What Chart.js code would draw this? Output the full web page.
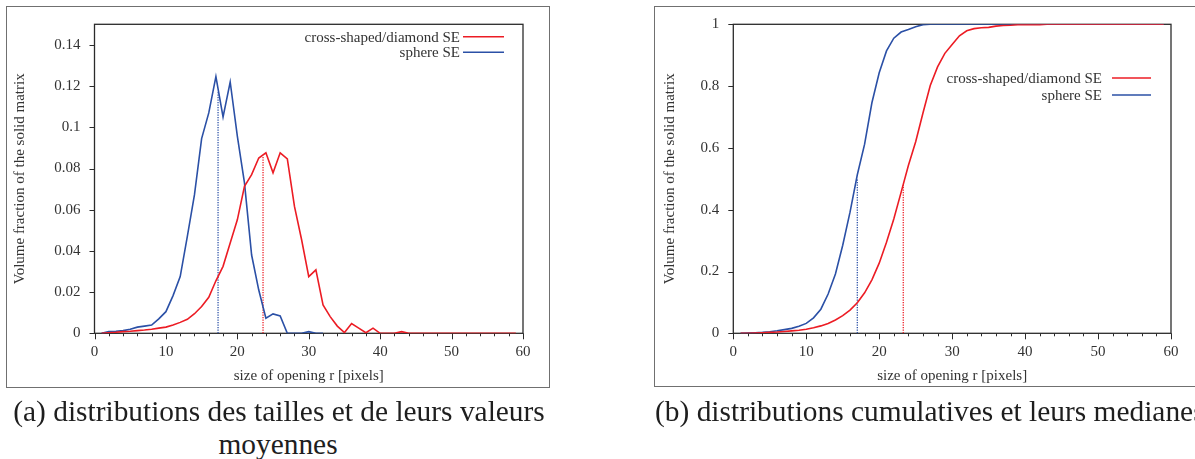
<!DOCTYPE html>
<html><head><meta charset="utf-8">
<script src="https://cdn.jsdelivr.net/npm/chart.js@4/dist/chart.umd.min.js"></script>
<style>
html,body{margin:0;padding:0;background:#fff;}
body{width:1195px;height:459px;overflow:hidden;position:relative;font-family:"Liberation Serif",serif;}
.frame{position:absolute;border:1.5px solid #707070;box-sizing:border-box;}
#frameA{left:6px;top:6px;width:544px;height:382px;}
#frameB{left:654px;top:6px;width:580px;height:381px;}
canvas{position:absolute;top:0;}
#chartA{left:0;}
#chartB{left:600px;}
.cap{position:absolute;color:#1e1e1e;white-space:nowrap;font-family:"Liberation Serif",serif;line-height:1;}
</style>
</head><body>
<div class="frame" id="frameA"></div>
<div class="frame" id="frameB"></div>
<canvas id="chartA" width="600" height="400"></canvas>
<canvas id="chartB" width="595" height="400"></canvas>
<div class="cap" id="capA1">(a) distributions des tailles et de leurs valeurs</div>
<div class="cap" id="capA2">moyennes</div>
<div class="cap" id="capB">(b) distributions cumulatives et leurs medianes</div>
<script>
// ---- data ----
const radii = [1,2,3,4,5,6,7,8,9,10,11,12,13,14,15,16,17,18,19,20,21,22,23,24,25,26,27,28,29,30,
  31,32,33,34,35,36,37,38,39,40,41,42,43,44,45,46,47,48,49,50,51,52,53,54,55,56,57,58,59];
const seriesNames = ['cross-shaped/diamond SE', 'sphere SE'];
// (a) size distributions
const distCross = [0,0.0003,0.0005,0.0008,0.001,0.0013,0.0016,0.002,0.0025,0.003,
  0.004,0.0053,0.0068,0.0095,0.013,0.0175,0.0255,0.0325,0.0438,0.0551,
  0.0713,0.077,0.0851,0.0876,0.0779,0.0876,0.0847,0.0616,0.0454,0.0275,
  0.0308,0.0138,0.0081,0.0035,0.0004,0.0047,0.0025,0.0003,0.0025,0,
  0,0,0.0008,0,0,0,0,0,0,0,0,0,0,0,0,0,0,0,0];
const distSphere = [0,0.0008,0.001,0.0013,0.002,0.003,0.0035,0.004,0.007,0.0105,
  0.0183,0.0275,0.047,0.0673,0.0945,0.107,0.1246,0.105,0.122,0.0957,
  0.073,0.038,0.021,0.0073,0.0094,0.0084,0,0,0,0.0008,0,0];
const meanCross = [23.6, 0.086];   // [r, height of marker line]
const meanSphere = [17.3, 0.117];
// (b) cumulative distributions
const cumCross = [0,0.0003,0.001,0.002,0.003,0.004,0.006,0.008,0.010,0.013,
  0.018,0.024,0.032,0.043,0.057,0.075,0.099,0.131,0.173,0.227,
  0.295,0.37,0.456,0.543,0.62,0.713,0.802,0.862,0.906,0.935,
  0.963,0.979,0.986,0.989,0.99,0.994,0.996,0.997,0.999,0.999,
  0.999,0.999,1,1,1,1,1,1,1,1,1,1,1,1,1,1,1,1,1];
const cumSphere = [0,0.001,0.002,0.003,0.005,0.008,0.012,0.016,0.023,0.032,
  0.05,0.078,0.127,0.192,0.285,0.392,0.513,0.612,0.746,0.843,
  0.914,0.955,0.975,0.983,0.992,0.999,1,1,1,1,
  1,1,1,1,1,1,1,1,1,1,1,1,1,1,1,1,1,1,1,1,1,1,1,1,1,1,1,1,1];
const medianCross = [23.3, 0.48];
const medianSphere = [17.0, 0.5];

// ---- styling ----
const RED = '#ec1c24', BLUE = '#2b50a6';
const SERIF = '"Liberation Serif", "Times New Roman", serif';
const TXT = '#333333';

const pts = (xs, ys) => ys.map((y, i) => ({x: xs[i], y}));
const vline = (m) => [{x: m[0], y: 0}, {x: m[0], y: m[1]}];
const fmt = v => String(Number(Number(v).toFixed(4)));

const frameTicks = {
  id: 'frameTicks',
  beforeDatasetsDraw(chart) {
    const {ctx, chartArea: a, scales: {x, y}} = chart;
    ctx.save();
    ctx.strokeStyle = '#2b2b2b';
    ctx.lineWidth = 1.3;
    ctx.strokeRect(a.left, a.top, a.right - a.left, a.bottom - a.top);
    ctx.lineWidth = 1;
    ctx.beginPath();
    x.ticks.forEach(t => {
      const px = Math.round(x.getPixelForValue(t.value)) + 0.5;
      const len = (Math.round(t.value) % 10 === 0) ? 6 : 3;
      ctx.moveTo(px, a.bottom); ctx.lineTo(px, a.bottom + len);
    });
    y.ticks.forEach(t => {
      const py = Math.round(y.getPixelForValue(t.value)) + 0.5;
      ctx.moveTo(a.left, py); ctx.lineTo(a.left - 5, py);
    });
    ctx.stroke();
    ctx.restore();
  }
};

const sideLegend = {
  id: 'sideLegend',
  afterDatasetsDraw(chart, args, opts) {
    const ctx = chart.ctx;
    ctx.save();
    ctx.font = '15px ' + SERIF;
    ctx.fillStyle = TXT;
    ctx.textAlign = 'right';
    ctx.textBaseline = 'middle';
    chart.data.datasets.filter(d => d.label).forEach((d, i) => {
      const yy = opts.ys[i];
      ctx.fillText(d.label, opts.textRight, yy + 1);
      ctx.strokeStyle = d.borderColor;
      ctx.lineWidth = d.borderWidth;
      ctx.beginPath();
      ctx.moveTo(opts.lineStart, yy);
      ctx.lineTo(opts.lineEnd, yy);
      ctx.stroke();
    });
    ctx.restore();
  }
};

function makeChart(id, cfg) {
  const curve = (label, data, color, order) => ({
    label, data, borderColor: color, borderWidth: 1.6, pointRadius: 0,
    tension: 0, fill: false, order
  });
  const marker = (data, color) => ({
    label: '', data, borderColor: color, borderWidth: 1.3, borderDash: [1.2, 1.3],
    pointRadius: 0, fill: false, order: 3
  });
  return new Chart(document.getElementById(id), {
    type: 'line',
    data: {
      datasets: [
        curve(seriesNames[0], cfg.red, RED, 1),
        curve(seriesNames[1], cfg.blue, BLUE, 2),
        marker(cfg.markBlue, BLUE),
        marker(cfg.markRed, RED)
      ]
    },
    plugins: [frameTicks, sideLegend],
    options: {
      responsive: false,
      animation: false,
      events: [],
      layout: {padding: {left: 0, top: 24.3, right: cfg.padRight, bottom: 0}},
      plugins: {
        legend: {display: false},
        tooltip: {enabled: false},
        sideLegend: cfg.legend
      },
      scales: {
        x: {
          type: 'linear', min: 0, max: 60,
          grid: {display: false, drawTicks: false},
          border: {display: false},
          ticks: {
            stepSize: 2, autoSkip: false, maxRotation: 0, padding: 10,
            color: TXT, font: {family: SERIF, size: 15},
            callback: v => (Math.round(v) % 10 === 0 ? fmt(v) : '')
          },
          title: {display: true, text: 'size of opening r [pixels]', color: TXT,
                  font: {family: SERIF, size: 15}, padding: {top: 0, bottom: 15}},
          afterFit: s => { s.height = 66.7; }
        },
        y: {
          type: 'linear', min: 0, max: cfg.yMax,
          grid: {display: false, drawTicks: false},
          border: {display: false},
          ticks: {
            stepSize: cfg.yStep, includeBounds: false, padding: 14,
            color: TXT, font: {family: SERIF, size: 15}, callback: v => fmt(v)
          },
          title: {display: true, text: 'Volume fraction of the solid matrix', color: TXT,
                  font: {family: SERIF, size: 15}, padding: {top: cfg.yTitlePad, bottom: 0}},
          afterFit: s => { s.width = cfg.yWidth; }
        }
      }
    }
  });
}

makeChart('chartA', {
  red: pts(radii, distCross),
  blue: pts(radii, distSphere),
  markBlue: vline(meanSphere),
  markRed: vline(meanCross),
  yMax: 0.15, yStep: 0.02,
  yWidth: 94.5, padRight: 77, yTitlePad: 11,
  legend: {textRight: 460, lineStart: 463, lineEnd: 504, ys: [36.7, 52.3]}
});

makeChart('chartB', {
  red: pts(radii, cumCross),
  blue: pts(radii, cumSphere),
  markBlue: vline(medianSphere),
  markRed: vline(medianCross),
  yMax: 1, yStep: 0.2,
  yWidth: 133.3, padRight: 24, yTitlePad: 61,
  legend: {textRight: 502, lineStart: 512, lineEnd: 551, ys: [78, 95]}
});

// captions
(function () {
  const c = document.createElement('canvas').getContext('2d');
  c.font = '100px ' + SERIF;
  const w = c.measureText(document.getElementById('capA1').textContent).width;
  const size = 100 * 532 / w;
  const place = (id, cx, cy, anchorLeft) => {
    const el = document.getElementById(id);
    el.style.fontSize = size + 'px';
    const r = el.getBoundingClientRect();
    el.style.left = (anchorLeft ? cx : cx - r.width / 2) + 'px';
    el.style.top = (cy - r.height / 2) + 'px';
  };
  place('capA1', 279, 412, false);
  place('capA2', 278, 445, false);
  place('capB', 655, 412, true);
})();
</script>
</body></html>
